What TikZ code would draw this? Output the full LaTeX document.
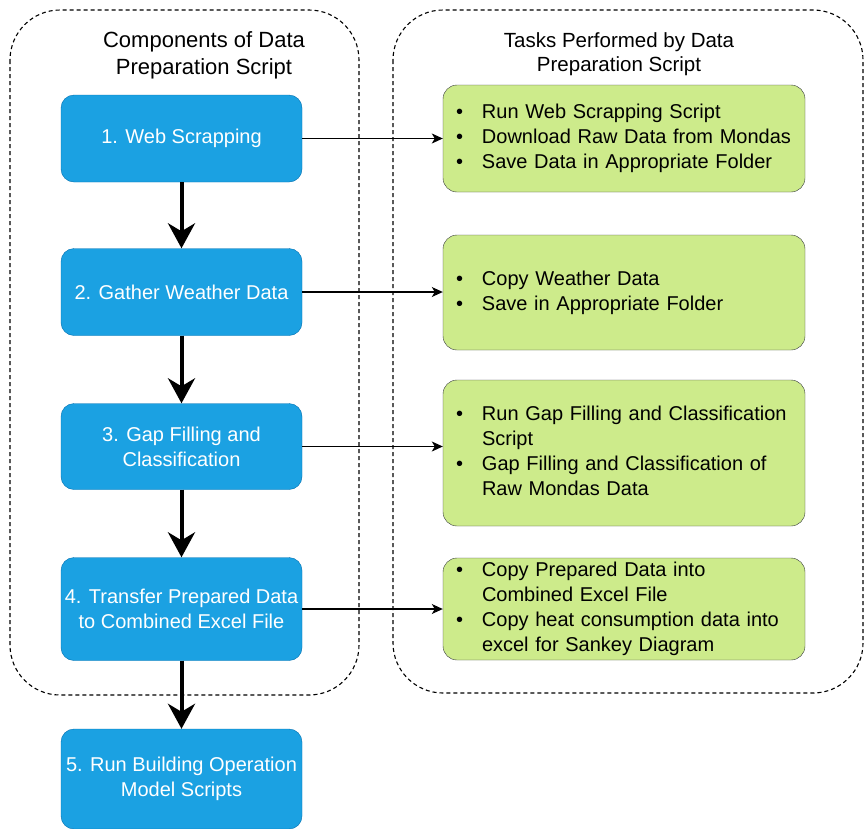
\documentclass[tikz,border=0pt]{standalone}
\usepackage{fontspec}
\setmainfont{Liberation Sans}
\usetikzlibrary{arrows.meta}

\definecolor{compblue}{HTML}{1BA1E2}
\definecolor{compedge}{HTML}{006EAF}
\definecolor{taskgreen}{HTML}{CDEB8B}
\definecolor{taskedge}{HTML}{36393D}

\begin{document}
\begin{tikzpicture}[x=1pt,y=-1pt,font=\fontsize{20}{25}\selectfont]
    \tikzset{
      comp/.style={draw=compedge, fill=compblue, text=white, rounded corners=13pt,
        minimum width=241pt, align=center, inner sep=0pt},
      task/.style={draw=taskedge, fill=taskgreen, rounded corners=14pt,
        minimum width=362pt, text width=336pt, inner xsep=13pt, inner ysep=0pt, align=left},
      frame/.style={dash pattern=on 4pt off 3pt, line width=1.1pt, rounded corners=50pt},
      flow/.style={line width=4pt, -{Stealth[length=25pt,width=27pt,inset=8pt]}},
      link/.style={line width=1.1pt, -{Stealth[length=11pt,width=10pt,inset=3pt]}}
    }
    \newcommand{\tasklist}[1]{\begin{tabular}{@{}p{26pt}@{}l@{}}#1\end{tabular}}
    \useasboundingbox (0,0) rectangle (864,828);
    % the two dashed groups
    \draw[frame] (10,10) rectangle (359,695);
    \draw[frame] (393,10) rectangle (863,693);
    \node[align=center, font=\fontsize{22}{27}\selectfont] (comptitle) at (204,55) {Components of Data\\Preparation Script};
    \node[align=center, font=\fontsize{20.5}{24.5}\selectfont] (tasktitle) at (619,54) {Tasks Performed by Data\\Preparation Script};
    % script components
    \node[comp, minimum height=87pt] (web) at (181.5,138.5) {1. Web Scrapping};
    \node[comp, minimum height=87pt] (weather) at (181.5,292) {2. Gather Weather Data};
    \node[comp, minimum height=86pt] (gap) at (181.5,446.5) {3. Gap Filling and\\Classification};
    \node[comp, minimum height=103pt] (transfer) at (181.5,609) {4. Transfer Prepared Data\\to Combined Excel File};
    \node[comp, minimum height=100pt] (model) at (181.5,779) {5. Run Building Operation\\Model Scripts};
    \draw[flow] (web) -- (weather);
    \draw[flow] (weather) -- (gap);
    \draw[flow] (gap) -- (transfer);
    \draw[flow] (transfer) -- (model);
    % tasks of each component
    \node[task, minimum height=107pt] (webtasks) at (624,138.5) {\tasklist{%
      \textbullet & Run Web Scrapping Script\\
      \textbullet & Download Raw Data from Mondas\\
      \textbullet & Save Data in Appropriate Folder}};
    \node[task, minimum height=115pt] (weathertasks) at (624,292.5) {\tasklist{%
      \textbullet & Copy Weather Data\\
      \textbullet & Save in Appropriate Folder}};
    \node[task, minimum height=146pt] (gaptasks) at (624,453) {\tasklist{%
      \textbullet & Run Gap Filling and Classification\\
      & Script\\
      \textbullet & Gap Filling and Classification of\\
      & Raw Mondas Data}};
    \node[task, minimum height=102pt] (transfertasks) at (624,609) {\tasklist{%
      \textbullet & Copy Prepared Data into\\
      & Combined Excel File\\
      \textbullet & Copy heat consumption data into\\
      & excel for Sankey Diagram}};
    \draw[link] (web.east) -- (web.east -| webtasks.west);
    \draw[link] (weather.east) -- (weather.east -| weathertasks.west);
    \draw[link] (gap.east) -- (gap.east -| gaptasks.west);
    \draw[link] (transfer.east) -- (transfer.east -| transfertasks.west);
\end{tikzpicture}
\end{document}
